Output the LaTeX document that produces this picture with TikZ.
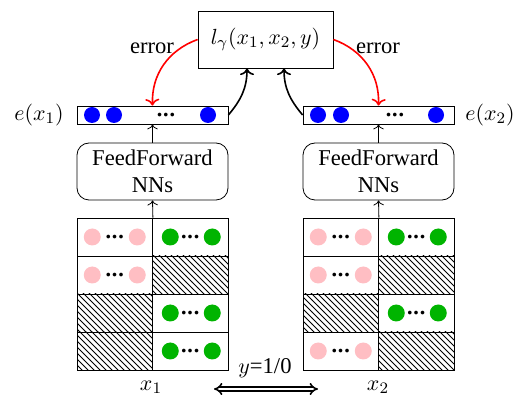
\documentclass[tikz,border=0pt]{standalone}
\usepackage{fontspec}
\setmainfont{Liberation Serif}
\usetikzlibrary{patterns,arrows.meta}
\definecolor{dotpink}{RGB}{255,190,195}
\definecolor{dotgreen}{RGB}{0,180,0}
\newcommand{\tightdots}{\smash{\raisebox{-3.6pt}{\textbf{\textperiodcentered\kern-0.6pt\textperiodcentered\kern-0.6pt\textperiodcentered}}}}

\begin{document}
\begin{tikzpicture}[x=0.5pt, y=0.5pt, font=\fontsize{11.3}{13.5}\selectfont,
        cell/.style={draw, minimum width=37.75pt, minimum height=19pt, inner sep=0pt},
        hatch/.style={cell, pattern=north west lines},
        bar/.style={draw, minimum width=75.5pt, minimum height=9pt, inner sep=0pt},
        ffnn/.style={draw, rounded corners=6pt, minimum width=75.5pt, minimum height=28.5pt, align=center, inner sep=1pt}]
        \useasboundingbox (0,0) rectangle (519,396);

        % Loss on top
        \node[draw, minimum width=67.5pt, minimum height=28.5pt] (L) at (265.5,356.5) {$l_\gamma(x_1,x_2,y)$};

        % Embedding bars
        \node[bar] (E1) at (152.5,281) {};
        \node[bar] (E2) at (378.5,281) {};
        \fill[blue] (92,281) circle (8) (114,281) circle (8) (208,281) circle (8);
        \fill[blue] (318,281) circle (8) (341,281) circle (8) (436,281) circle (8);
        \node (D1) at (166,281) {\tightdots};
        \node (D2) at (395,281) {\tightdots};
        \node[anchor=east, inner sep=0pt] (EL1) at (64,281) {$e(x_1)$};
        \node[anchor=west, inner sep=0pt] (EL2) at (465,281) {$e(x_2)$};

        % Feed forward networks
        \node[ffnn] (F1) at (152.5,224.5) {FeedForward\\NNs};
        \node[ffnn] (F2) at (378.5,224.5) {FeedForward\\NNs};

        % Input grid of x1
        \node[cell] (A11) at (114.75,159) {\tightdots};
        \node[cell] (A12) at (190.25,159) {\tightdots};
        \node[cell] (A21) at (114.75,121) {\tightdots};
        \node[hatch] (A22) at (190.25,121) {};
        \node[hatch] (A31) at (114.75,83) {};
        \node[cell] (A32) at (190.25,83) {\tightdots};
        \node[hatch] (A41) at (114.75,45) {};
        \node[cell] (A42) at (190.25,45) {\tightdots};

        % Input grid of x2
        \node[cell] (B11) at (340.75,159) {\tightdots};
        \node[cell] (B12) at (416.25,159) {\tightdots};
        \node[cell] (B21) at (340.75,121) {\tightdots};
        \node[hatch] (B22) at (416.25,121) {};
        \node[hatch] (B31) at (340.75,83) {};
        \node[cell] (B32) at (416.25,83) {\tightdots};
        \node[cell] (B41) at (340.75,45) {\tightdots};
        \node[hatch] (B42) at (416.25,45) {};

        % Dots in the cells
        \fill[dotpink] (A11) ++(-22.5,0) circle (8.5) (A11) ++(22.5,0) circle (8.5);
        \fill[dotpink] (A21) ++(-22.5,0) circle (8.5) (A21) ++(22.5,0) circle (8.5);
        \fill[dotpink] (B11) ++(-22.5,0) circle (8.5) (B11) ++(22.5,0) circle (8.5);
        \fill[dotpink] (B21) ++(-22.5,0) circle (8.5) (B21) ++(22.5,0) circle (8.5);
        \fill[dotpink] (B41) ++(-22.5,0) circle (8.5) (B41) ++(22.5,0) circle (8.5);
        \fill[dotgreen] (A12) ++(-20,0) circle (8.5) (A12) ++(22,0) circle (8.5);
        \fill[dotgreen] (A32) ++(-20,0) circle (8.5) (A32) ++(22,0) circle (8.5);
        \fill[dotgreen] (A42) ++(-20,0) circle (8.5) (A42) ++(22,0) circle (8.5);
        \fill[dotgreen] (B12) ++(-20,0) circle (8.5) (B12) ++(22,0) circle (8.5);
        \fill[dotgreen] (B32) ++(-20,0) circle (8.5) (B32) ++(22,0) circle (8.5);

        % Inputs and label
        \node (X1) at (151,9) {$x_1$};
        \node (X2) at (378,9) {$x_2$};
        \node (Y) at (265,28) {$y$=1/0};
        \coordinate (YA) at (214,7);
        \coordinate (YB) at (318,7);
        \draw[double, thick, double distance=1.2pt, {Implies[scale=1.3]}-{Implies[scale=1.3]}] (YA) -- (YB);

        % Forward arrows
        \draw[->] (A11.north east) -- (F1.south);
        \draw[->] (F1.north) -- (E1.south);
        \draw[->] (B11.north east) -- (F2.south);
        \draw[->] (F2.north) -- (E2.south);
        \draw[->, thick] (E1.east) to[out=50, in=-90] ([xshift=-9.25pt]L.south);
        \draw[->, thick] (E2.west) to[out=130, in=-90] ([xshift=9.25pt]L.south);

        % Error arrows
        \draw[->, thick, red] (L.west) to[out=200, in=92] (E1.north);
        \draw[->, thick, red] (L.east) to[out=-20, in=88] (E2.north);
        \node (R1) at (152,348) {error};
        \node (R2) at (378,348) {error};
    \end{tikzpicture}
\end{document}
